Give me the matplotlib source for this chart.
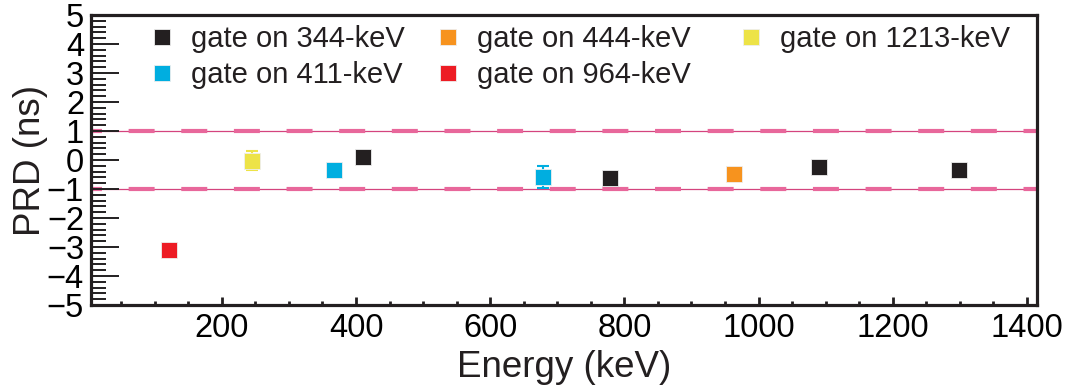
import numpy as np
import matplotlib.pyplot as plt
from matplotlib.ticker import MultipleLocator

plt.rcParams['font.family'] = ['Liberation Sans', 'DejaVu Sans']
plt.rcParams['lines.scale_dashes'] = False

# data
gates = ['344', '411', '444', '964', '1213']
colors = {'344': '#231f20', '411': '#00aee0', '444': '#f7931e',
          '964': '#ed1c24', '1213': '#ede347'}
energy = [122, 245, 367, 411, 679, 779, 964, 1090, 1299]
prd = [-3.10, -0.02, -0.34, 0.10, -0.58, -0.61, -0.49, -0.24, -0.33]
prd_err = [0.15, 0.34, 0.20, 0.15, 0.38, 0.15, 0.15, 0.15, 0.15]
gate_of = ['964', '1213', '411', '344', '411', '344', '444', '344', '344']
limits = [-1, 1]

fig = plt.figure(figsize=(10.68, 3.91), dpi=100)
ax = fig.add_axes([91/1068, 86/391, 946/1068, 290/391])

for y in limits:
    ax.axhline(y, color='#d4447e', lw=0.9, zorder=1)
    ax.axhline(y, color='#e8679b', lw=3.0, linestyle=(10.8, (18.7, 19.2)), zorder=1)

handles = {}
for e, v, err, g in zip(energy, prd, prd_err, gate_of):
    ax.errorbar(e, v, yerr=err, color=colors[g], ecolor=colors[g], elinewidth=1.5,
                capsize=4, capthick=1.5, zorder=2)
    h, = ax.plot(e, v, 's', ms=11.5, color=colors[g], mec='#eeeeee', mew=0.6, zorder=3)
    handles[g] = h

ax.set_xlim(5, 1415)
ax.set_ylim(-5, 5)
ax.xaxis.set_major_locator(MultipleLocator(200))
ax.xaxis.set_minor_locator(MultipleLocator(50))
ax.yaxis.set_major_locator(MultipleLocator(1))
ax.yaxis.set_minor_locator(MultipleLocator(0.2))
ax.tick_params(axis='y', which='major', direction='in', length=20, width=1.4,
               labelsize=23.5, pad=5, color='#231f20')
ax.tick_params(axis='y', which='minor', direction='in', length=10.5, width=1.4,
               color='#231f20')
ax.tick_params(axis='x', which='major', direction='in', length=6, width=2,
               labelsize=23.5, pad=6, color='#231f20')
ax.tick_params(axis='x', which='minor', direction='in', length=3, width=2,
               color='#231f20')
ax.set_xticks([200, 400, 600, 800, 1000, 1200, 1400])
for s in ax.spines.values():
    s.set_linewidth(2.3)
    s.set_color('#231f20')

ax.set_xlabel('Energy (keV)', fontsize=26.5, labelpad=4, color='#231f20')
ax.set_ylabel('PRD (ns)', fontsize=26.5, labelpad=-1, color='#231f20')

# legend, one column at a time
cols = [['344', '411'], ['444', '964'], ['1213']]
col_x = [147, 433, 736]
for xs, col in zip(col_x, cols):
    leg = fig.legend([handles[g] for g in col], ['gate on %s-keV' % g for g in col],
                     loc='upper left', bbox_to_anchor=(xs/1068, 1 - 25/391),
                     frameon=False, fontsize=21, handlelength=1.0, handletextpad=0.5,
                     labelspacing=0.27, borderpad=0, borderaxespad=0, markerscale=0.95)
    for t in leg.get_texts():
        t.set_color('#231f20')

fig.savefig('out.png', dpi=100)
